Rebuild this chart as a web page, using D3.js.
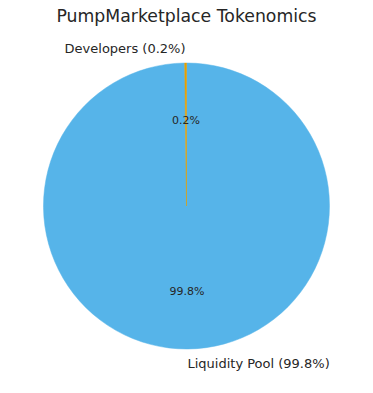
<!DOCTYPE html>
<html>
<head>
<meta charset="utf-8">
<script src="https://cdn.jsdelivr.net/npm/d3@7"></script>
<style>
  body { margin: 0; background: #fff; }
  text { font-family: "DejaVu Sans", sans-serif; fill: #262626; }
</style>
</head>
<body>
<svg id="chart"></svg>
<script>
// slice names, shares and colours
var categories = ["Developers", "Liquidity Pool"];
var shares = [0.2, 99.8];
var colors = ["#E69F00", "#56B4E9"];

var width = 373,
  height = 393,
  cx = 186.5,
  cy = 206,
  radius = 143;

var svg = d3.select("#chart").attr("width", width).attr("height", height);

svg
  .append("text")
  .attr("x", cx)
  .attr("y", 16)
  .attr("text-anchor", "middle")
  .attr("dominant-baseline", "central")
  .style("font-size", "17.3px")
  .text("PumpMarketplace Tokenomics");

var data = categories.map((c, i) => ({ name: c, value: shares[i], color: colors[i] }));

// counter-clockwise from 12 o'clock, like matplotlib startangle=90
var arcs = d3
  .pie()
  .value((d) => d.value)
  .sort(null)
  .startAngle(0)
  .endAngle(-2 * Math.PI)(data);

var g = svg.append("g").attr("transform", `translate(${cx}, ${cy})`);
var arc = d3.arc().innerRadius(0).outerRadius(radius);

// draw the big slice first so the thin one sits on top
g.selectAll(".arc")
  .data(arcs.slice().reverse())
  .enter()
  .append("path")
  .attr("class", "arc")
  .attr("fill", (d) => d.data.color)
  .attr("stroke", (d) => d.data.color)
  .attr("stroke-width", 0.5)
  .attr("d", arc);

function mid(d) {
  return (d.startAngle + d.endAngle) / 2;
}

// percent labels at 0.6 r
g.selectAll(".pct")
  .data(arcs)
  .enter()
  .append("text")
  .attr("class", "pct")
  .attr("x", (d) => 0.6 * radius * Math.sin(mid(d)))
  .attr("y", (d) => -0.6 * radius * Math.cos(mid(d)))
  .attr("text-anchor", "middle")
  .attr("dominant-baseline", "central")
  .style("font-size", "11px")
  .text((d) => d.data.value.toFixed(1) + "%");

// outer labels at 1.1 r
g.selectAll(".lbl")
  .data(arcs)
  .enter()
  .append("text")
  .attr("class", "lbl")
  .attr("x", (d) => 1.1 * radius * Math.sin(mid(d)))
  .attr("y", (d) => -1.1 * radius * Math.cos(mid(d)))
  .attr("text-anchor", (d) => (Math.sin(mid(d)) > 0 ? "start" : "end"))
  .attr("dominant-baseline", "central")
  .style("font-size", "13px")
  .text((d) => `${d.data.name} (${d.data.value.toFixed(1)}%)`);
</script>
</body>
</html>
